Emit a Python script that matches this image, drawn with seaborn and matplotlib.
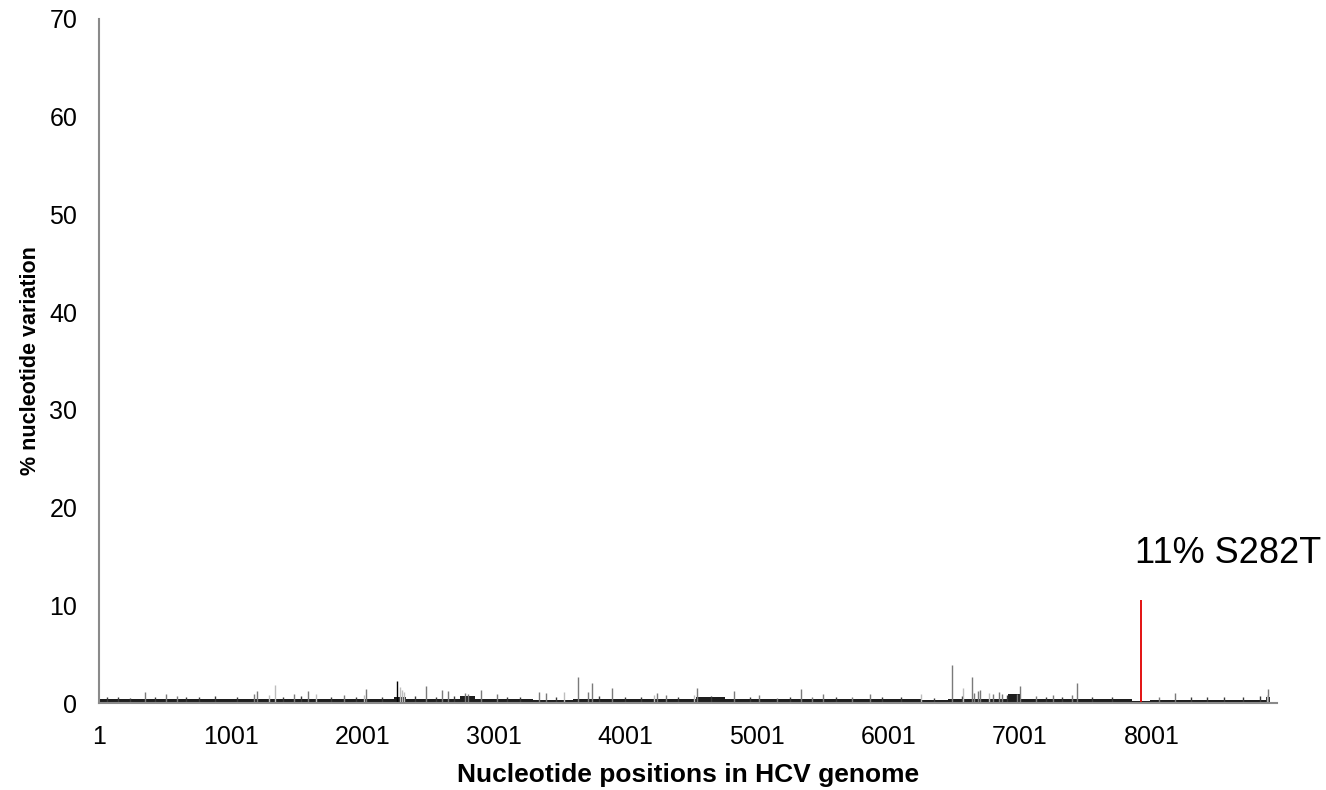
import numpy as np
import pandas as pd
import matplotlib
matplotlib.use("Agg")
import matplotlib.pyplot as plt
import seaborn as sns

# background variation level, read per genome stretch (start, end, % variation)
seg_start = [1, 250, 1000, 1700, 2240, 2330, 2740, 2860, 3300, 3600, 4540, 4760,
             5500, 6250, 6450, 6910, 7010, 7850, 7990, 8870]
seg_end = [250, 1000, 1700, 2240, 2330, 2740, 2860, 3300, 3600, 4540, 4760, 5500,
           6250, 6450, 6910, 7010, 7850, 7990, 8870, 8905]
seg_level = [0.45, 0.38, 0.42, 0.38, 0.62, 0.42, 0.72, 0.42, 0.35, 0.38, 0.58, 0.38,
             0.38, 0.28, 0.42, 0.88, 0.38, 0.22, 0.36, 0.62]

# individual positions standing out of the background
peak_pos = [349, 509, 590, 1178, 1200, 1290, 1335, 1480, 1589, 1645, 1860, 2010,
            2030, 2265, 2285, 2303, 2318, 2481, 2607, 2653, 2780, 2800, 2906, 3025,
            3345, 3398, 3530, 3637, 3718, 3748, 3900, 4215, 4243, 4309, 4520, 4547,
            4828, 5020, 5150, 5338, 5420, 5505, 5720, 5862, 6248, 6481, 6570, 6638,
            6655, 6684, 6699, 6767, 6797, 6839, 6865, 6980, 7000, 7120, 7250, 7400,
            7434, 8060, 8181, 8880, 8889]
peak_val = [1.13, 0.90, 0.70, 0.90, 1.20, 0.80, 1.90, 0.96, 1.27, 0.90, 0.82, 0.80,
            1.47, 2.25, 1.64, 1.33, 1.10, 1.70, 1.30, 1.27, 1.00, 0.95, 1.30, 0.88,
            1.10, 1.00, 1.10, 2.66, 1.10, 2.05, 1.58, 0.80, 1.00, 0.80, 0.85, 1.58,
            1.20, 0.80, 0.55, 1.47, 0.64, 0.88, 0.65, 0.88, 0.88, 3.93, 1.50, 2.69,
            1.00, 1.20, 1.35, 1.00, 0.95, 1.10, 0.90, 0.95, 1.70, 0.70, 0.80, 0.80,
            2.09, 0.60, 1.02, 0.80, 1.40]
peak_shade = ["g", "g", "g", "g", "g", "l", "l", "g", "g", "l", "g", "l",
              "g", "k", "l", "l", "l", "g", "g", "g", "g", "g", "g", "g",
              "g", "g", "l", "g", "g", "g", "g", "l", "g", "g", "l", "g",
              "g", "g", "g", "g", "g", "g", "g", "g", "l", "g", "l", "g",
              "g", "g", "g", "l", "g", "g", "g", "g", "g", "g", "g", "g",
              "g", "g", "g", "l", "g"]

# small bumps seen along the background band
minor_pos = [60, 140, 230, 420, 660, 760, 880, 1050, 1400, 1530, 1760, 1950, 2150,
             2400, 2560, 2700, 3100, 3200, 3470, 3800, 4000, 4120, 4400, 4650, 4950,
             5250, 5600, 5950, 6100, 6350, 6560, 6900, 7200, 7320, 7550, 7700, 8300,
             8420, 8550, 8700, 8830]
minor_val = [0.65, 0.60, 0.55, 0.60, 0.65, 0.60, 0.70, 0.60, 0.65, 0.70, 0.60, 0.65,
             0.60, 0.70, 0.65, 0.75, 0.60, 0.65, 0.60, 0.70, 0.60, 0.65, 0.60, 0.75,
             0.65, 0.60, 0.65, 0.60, 0.65, 0.55, 0.75, 0.80, 0.60, 0.65, 0.60, 0.65,
             0.60, 0.65, 0.60, 0.65, 0.70]

# highlighted mutation
hot_pos = [7923]
hot_val = [10.6]
hot_label = "11% S282T"

xtick_pos = [1, 1001, 2001, 3001, 4001, 5001, 6001, 7001, 8001]
ytick_pos = [0, 10, 20, 30, 40, 50, 60, 70]

sns.set_style("white")
plt.rcParams["font.family"] = ["Liberation Sans", "DejaVu Sans"]
plt.rcParams["text.color"] = "black"
plt.rcParams["axes.labelcolor"] = "black"

shade_colors = {"k": "#000000", "g": "#7a7a7a", "l": "#bdbdbd"}
axis_gray = "#8a8a8a"

fig = plt.figure(figsize=(13.26, 7.90), dpi=100)
ax = fig.add_axes([0.075, 0.110, 0.888, 0.866])

seg = pd.DataFrame({"start": seg_start, "end": seg_end, "level": seg_level})
ax.bar(seg["start"], seg["level"], width=seg["end"] - seg["start"], align="edge",
       color="#1e1e1e", linewidth=0)

ax.vlines(minor_pos, 0, minor_val, colors="#3a3a3a", linewidth=1.0)

peaks = pd.DataFrame({"pos": peak_pos, "val": peak_val, "shade": peak_shade})
for shade, grp in peaks.groupby("shade"):
    ax.vlines(grp["pos"], 0, grp["val"], colors=shade_colors[shade], linewidth=1.0)

ax.vlines(hot_pos, 0, hot_val, colors="#e00000", linewidth=1.3)
ax.text(8582, 15.35, hot_label, fontsize=26, ha="center", va="center", color="black")

ax.set_xlim(1, 8955)
ax.set_ylim(0, 70)
ax.set_xticks(xtick_pos)
ax.set_xticklabels([str(p) for p in xtick_pos])
ax.set_yticks(ytick_pos)

sns.despine(ax=ax)
for side in ["left", "bottom"]:
    ax.spines[side].set_color(axis_gray)
    ax.spines[side].set_linewidth(1.5)
ax.tick_params(axis="both", which="major", direction="out", length=7, width=1.5,
               color=axis_gray, labelsize=18, labelcolor="black")
ax.tick_params(axis="x", pad=9)
ax.tick_params(axis="y", pad=9)

ax.set_xlabel("Nucleotide positions in HCV genome", fontsize=19, fontweight="bold",
              labelpad=10)
ax.set_ylabel("% nucleotide variation", fontsize=15.5, fontweight="bold", labelpad=6)

fig.savefig("out.png", dpi=100)
